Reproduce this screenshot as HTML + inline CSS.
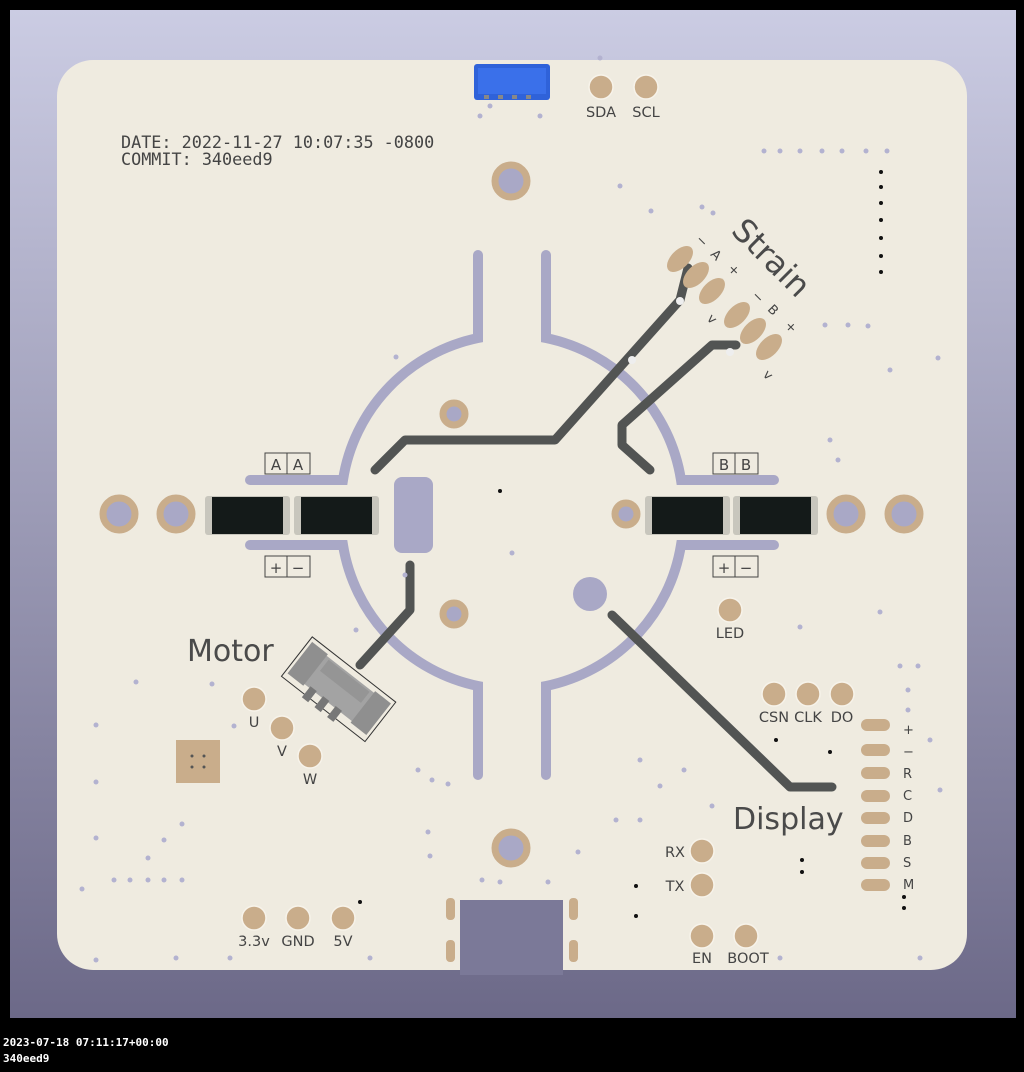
<!DOCTYPE html>
<html><head><meta charset="utf-8"><style>
html,body{margin:0;padding:0;background:#000;width:1024px;height:1072px;overflow:hidden}
svg{display:block}
.s{font-family:"DejaVu Sans","Liberation Sans",sans-serif}
.m{font-family:"DejaVu Sans Mono","Liberation Mono",monospace}
</style></head><body>
<svg width="1024" height="1072" viewBox="0 0 1024 1072" xmlns="http://www.w3.org/2000/svg">
<defs>
<linearGradient id="bg" x1="0" y1="0" x2="0" y2="1">
<stop offset="0" stop-color="#cbcce3"/><stop offset="1" stop-color="#6c6988"/>
</linearGradient>
</defs>
<rect x="0" y="0" width="1024" height="1072" fill="#000"/>
<rect x="10" y="10" width="1006" height="1008" fill="url(#bg)"/>
<rect x="57" y="60" width="910" height="910" rx="36" fill="#efebe0"/>
<rect x="460" y="900" width="103" height="75" fill="#7b7998"/>
<rect x="446" y="898" width="9" height="22" rx="4" fill="#c9ad8b"/>
<rect x="569" y="898" width="9" height="22" rx="4" fill="#c9ad8b"/>
<rect x="446" y="940" width="9" height="22" rx="4" fill="#c9ad8b"/>
<rect x="569" y="940" width="9" height="22" rx="4" fill="#c9ad8b"/>

<rect x="474" y="64" width="76" height="36" rx="3" fill="#2f62d9"/>
<rect x="478" y="68" width="68" height="26" fill="#3a70ea"/>
<g fill="#888"><rect x="484" y="95" width="5" height="4"/><rect x="498" y="95" width="5" height="4"/><rect x="512" y="95" width="5" height="4"/><rect x="526" y="95" width="5" height="4"/></g>

<text class="m" x="121" y="148" font-size="16.8" fill="#444">DATE: 2022-11-27 10:07:35 -0800</text>
<text class="m" x="121" y="165" font-size="16.8" fill="#444">COMMIT: 340eed9</text>

<g fill="none" stroke="#a9a8c6" stroke-width="10" stroke-linecap="round">
<path d="M478 255 V338 A172 172 0 0 0 343 480 H250"/>
<path d="M546 255 V338 A172 172 0 0 1 681 480 H774"/>
<path d="M478 775 V686 A172 172 0 0 1 343 545 H250"/>
<path d="M546 775 V686 A172 172 0 0 0 681 545 H774"/>
</g>
<rect x="394" y="477" width="39" height="76" rx="8" fill="#a9a8c6"/>
<circle cx="590" cy="594" r="17" fill="#a9a8c6"/>

<g fill="none" stroke="#525453" stroke-width="9" stroke-linecap="round" stroke-linejoin="round">
<path d="M375 470 L405 440 H555 L680 300 L688 268"/>
<path d="M650 470 L622 445 V425 L712 345 H736"/>
<path d="M410 565 V610 L360 665"/>
<path d="M612 615 L790 787 H832"/>
</g>
<circle cx="680" cy="301" r="4" fill="#eee"/><circle cx="632" cy="360" r="4" fill="#eee"/><circle cx="730" cy="352" r="4" fill="#eee"/>

<g fill="#a9a8c6" stroke="#c9ad8b" stroke-width="7">
<circle cx="119" cy="514" r="16"/><circle cx="176" cy="514" r="16"/>
<circle cx="846" cy="514" r="16"/><circle cx="904" cy="514" r="16"/>
<circle cx="511" cy="181" r="16"/><circle cx="511" cy="848" r="16"/>
<circle cx="454" cy="414" r="11"/><circle cx="454" cy="614" r="11"/><circle cx="626" cy="514" r="11"/>
</g>

<g>
<rect x="205" y="496" width="85" height="39" rx="3" fill="#c8c6bd"/>
<rect x="212" y="497" width="71" height="37" fill="#141a19"/>
<rect x="294" y="496" width="85" height="39" rx="3" fill="#c8c6bd"/>
<rect x="301" y="497" width="71" height="37" fill="#141a19"/>
<rect x="645" y="496" width="85" height="39" rx="3" fill="#c8c6bd"/>
<rect x="652" y="497" width="71" height="37" fill="#141a19"/>
<rect x="733" y="496" width="85" height="39" rx="3" fill="#c8c6bd"/>
<rect x="740" y="497" width="71" height="37" fill="#141a19"/>
</g>
<g fill="none" stroke="#444" stroke-width="1">
<rect x="265" y="453" width="45" height="21"/><line x1="287" y1="453" x2="287" y2="474"/>
<rect x="265" y="556" width="45" height="21"/><line x1="287" y1="556" x2="287" y2="577"/>
<rect x="713" y="453" width="45" height="21"/><line x1="735" y1="453" x2="735" y2="474"/>
<rect x="713" y="556" width="45" height="21"/><line x1="735" y1="556" x2="735" y2="577"/>
</g>
<g class="s" font-size="15" fill="#444" text-anchor="middle">
<text x="276" y="470">A</text><text x="298" y="470">A</text>
<text x="276" y="573">+</text><text x="298" y="573">−</text>
<text x="724" y="470">B</text><text x="746" y="470">B</text>
<text x="724" y="573">+</text><text x="746" y="573">−</text>
</g>

<g fill="#c9ad8b">
<ellipse cx="680" cy="259" rx="16" ry="9" transform="rotate(-45 680 259)"/>
<ellipse cx="696" cy="275" rx="16" ry="9" transform="rotate(-45 696 275)"/>
<ellipse cx="712" cy="291" rx="16" ry="9" transform="rotate(-45 712 291)"/>
<ellipse cx="737" cy="315" rx="16" ry="9" transform="rotate(-45 737 315)"/>
<ellipse cx="753" cy="331" rx="16" ry="9" transform="rotate(-45 753 331)"/>
<ellipse cx="769" cy="347" rx="16" ry="9" transform="rotate(-45 769 347)"/>
</g>
<text class="s" x="730" y="232" font-size="32" fill="#4a4a4a" transform="rotate(45 730 232)">Strain</text>
<g class="s" font-size="13" fill="#444" text-anchor="middle">
<text x="699" y="244" transform="rotate(45 699 244)">−</text>
<text x="713" y="258" transform="rotate(45 713 258)">A</text>
<text x="731" y="273" transform="rotate(45 731 273)">+</text>
<text x="755" y="300" transform="rotate(45 755 300)">−</text>
<text x="770" y="313" transform="rotate(45 770 313)">B</text>
<text x="788" y="330" transform="rotate(45 788 330)">+</text>
<text x="709" y="322" transform="rotate(45 709 322)">v</text>
<text x="765" y="378" transform="rotate(45 765 378)">v</text>
</g>

<text class="s" x="187" y="661" font-size="30" fill="#4a4a4a">Motor</text>
<text class="s" x="733" y="829" font-size="30" fill="#4a4a4a">Display</text>

<g transform="rotate(38 338 690)">
<rect x="285" y="664" width="106" height="50" fill="none" stroke="#333" stroke-width="1"/>
<rect x="290" y="670" width="96" height="36" fill="#a3a3a3"/>
<rect x="288" y="668" width="20" height="40" fill="#8f8f8f"/>
<rect x="368" y="668" width="20" height="40" fill="#8f8f8f"/>
<rect x="312" y="672" width="52" height="14" fill="#959595"/>
<rect x="314" y="704" width="8" height="14" fill="#777"/><rect x="330" y="704" width="8" height="14" fill="#777"/><rect x="346" y="704" width="8" height="14" fill="#777"/>
</g>
<rect x="176" y="740" width="44" height="43" fill="#c9ad8b"/>
<g fill="#555"><circle cx="192" cy="756" r="1.5"/><circle cx="204" cy="756" r="1.5"/><circle cx="192" cy="767" r="1.5"/><circle cx="204" cy="767" r="1.5"/></g>

<g fill="#c9ad8b" stroke="#f7f3ea" stroke-width="1.5">
<circle cx="601" cy="87" r="12"/><circle cx="646" cy="87" r="12"/>
<circle cx="730" cy="610" r="12"/>
<circle cx="774" cy="694" r="12"/><circle cx="808" cy="694" r="12"/><circle cx="842" cy="694" r="12"/>
<circle cx="254" cy="699" r="12"/><circle cx="282" cy="728" r="12"/><circle cx="310" cy="756" r="12"/>
<circle cx="702" cy="851" r="12"/><circle cx="702" cy="885" r="12"/>
<circle cx="702" cy="936" r="12"/><circle cx="746" cy="936" r="12"/>
<circle cx="254" cy="918" r="12"/><circle cx="298" cy="918" r="12"/><circle cx="343" cy="918" r="12"/>
</g>
<g class="s" font-size="14.5" fill="#444" text-anchor="middle">
<text x="601" y="117">SDA</text><text x="646" y="117">SCL</text>
<text x="730" y="638">LED</text>
<text x="774" y="722">CSN</text><text x="808" y="722">CLK</text><text x="842" y="722">DO</text>
<text x="254" y="727">U</text><text x="282" y="756">V</text><text x="310" y="784">W</text>
<text x="675" y="857">RX</text><text x="675" y="891">TX</text>
<text x="702" y="963">EN</text><text x="748" y="963">BOOT</text>
<text x="254" y="946">3.3v</text><text x="298" y="946">GND</text><text x="343" y="946">5V</text>
</g>

<g fill="#c9ad8b">
<rect x="861" y="719" width="29" height="12" rx="6"/><rect x="861" y="744" width="29" height="12" rx="6"/>
<rect x="861" y="767" width="29" height="12" rx="6"/><rect x="861" y="790" width="29" height="12" rx="6"/>
<rect x="861" y="812" width="29" height="12" rx="6"/><rect x="861" y="835" width="29" height="12" rx="6"/>
<rect x="861" y="857" width="29" height="12" rx="6"/><rect x="861" y="879" width="29" height="12" rx="6"/>
</g>
<g class="s" font-size="13" fill="#444">
<text x="903" y="734">+</text><text x="903" y="756">−</text><text x="903" y="778">R</text><text x="903" y="800">C</text>
<text x="903" y="822">D</text><text x="903" y="845">B</text><text x="903" y="867">S</text><text x="903" y="889">M</text>
</g>

<g fill="#111">
<circle cx="881" cy="172" r="2"/><circle cx="881" cy="187" r="2"/><circle cx="881" cy="203" r="2"/><circle cx="881" cy="220" r="2"/>
<circle cx="881" cy="238" r="2"/><circle cx="881" cy="256" r="2"/><circle cx="881" cy="272" r="2"/>
<circle cx="500" cy="491" r="2"/><circle cx="776" cy="740" r="2"/><circle cx="830" cy="752" r="2"/>
<circle cx="802" cy="860" r="2"/><circle cx="802" cy="872" r="2"/><circle cx="636" cy="886" r="2"/><circle cx="636" cy="916" r="2"/>
<circle cx="904" cy="897" r="2"/><circle cx="904" cy="908" r="2"/><circle cx="360" cy="902" r="2"/>
</g>
<g fill="#b3b2d0">
<circle cx="764" cy="151" r="2.5"/><circle cx="780" cy="151" r="2.5"/><circle cx="800" cy="151" r="2.5"/><circle cx="822" cy="151" r="2.5"/><circle cx="842" cy="151" r="2.5"/><circle cx="866" cy="151" r="2.5"/><circle cx="887" cy="151" r="2.5"/>
<circle cx="620" cy="186" r="2.5"/><circle cx="651" cy="211" r="2.5"/><circle cx="702" cy="207" r="2.5"/><circle cx="713" cy="213" r="2.5"/>
<circle cx="825" cy="325" r="2.5"/><circle cx="848" cy="325" r="2.5"/><circle cx="868" cy="326" r="2.5"/>
<circle cx="938" cy="358" r="2.5"/><circle cx="890" cy="370" r="2.5"/><circle cx="830" cy="440" r="2.5"/><circle cx="838" cy="460" r="2.5"/>
<circle cx="396" cy="357" r="2.5"/><circle cx="512" cy="553" r="2.5"/><circle cx="405" cy="575" r="2.5"/><circle cx="356" cy="630" r="2.5"/>
<circle cx="136" cy="682" r="2.5"/><circle cx="212" cy="684" r="2.5"/><circle cx="234" cy="726" r="2.5"/><circle cx="96" cy="725" r="2.5"/>
<circle cx="96" cy="782" r="2.5"/><circle cx="96" cy="838" r="2.5"/><circle cx="82" cy="889" r="2.5"/>
<circle cx="114" cy="880" r="2.5"/><circle cx="130" cy="880" r="2.5"/><circle cx="148" cy="880" r="2.5"/><circle cx="164" cy="880" r="2.5"/><circle cx="182" cy="880" r="2.5"/>
<circle cx="148" cy="858" r="2.5"/><circle cx="164" cy="840" r="2.5"/><circle cx="182" cy="824" r="2.5"/>
<circle cx="418" cy="770" r="2.5"/><circle cx="432" cy="780" r="2.5"/><circle cx="448" cy="784" r="2.5"/><circle cx="428" cy="832" r="2.5"/><circle cx="430" cy="856" r="2.5"/>
<circle cx="482" cy="880" r="2.5"/><circle cx="500" cy="882" r="2.5"/><circle cx="548" cy="882" r="2.5"/><circle cx="578" cy="852" r="2.5"/>
<circle cx="640" cy="760" r="2.5"/><circle cx="660" cy="786" r="2.5"/><circle cx="684" cy="770" r="2.5"/><circle cx="712" cy="806" r="2.5"/>
<circle cx="800" cy="627" r="2.5"/><circle cx="880" cy="612" r="2.5"/><circle cx="900" cy="666" r="2.5"/><circle cx="918" cy="666" r="2.5"/>
<circle cx="908" cy="690" r="2.5"/><circle cx="908" cy="710" r="2.5"/><circle cx="930" cy="740" r="2.5"/><circle cx="940" cy="790" r="2.5"/>
<circle cx="176" cy="958" r="2.5"/><circle cx="230" cy="958" r="2.5"/><circle cx="370" cy="958" r="2.5"/><circle cx="96" cy="960" r="2.5"/>
<circle cx="480" cy="116" r="2.5"/><circle cx="490" cy="106" r="2.5"/><circle cx="540" cy="116" r="2.5"/><circle cx="600" cy="58" r="2.5"/>
<circle cx="640" cy="820" r="2.5"/><circle cx="616" cy="820" r="2.5"/><circle cx="780" cy="958" r="2.5"/><circle cx="920" cy="958" r="2.5"/>
</g>

<text class="m" x="3" y="1046" font-size="11" fill="#fff" font-weight="bold">2023-07-18 07:11:17+00:00</text>
<text class="m" x="3" y="1062" font-size="11" fill="#fff" font-weight="bold">340eed9</text>
</svg>
</body></html>
